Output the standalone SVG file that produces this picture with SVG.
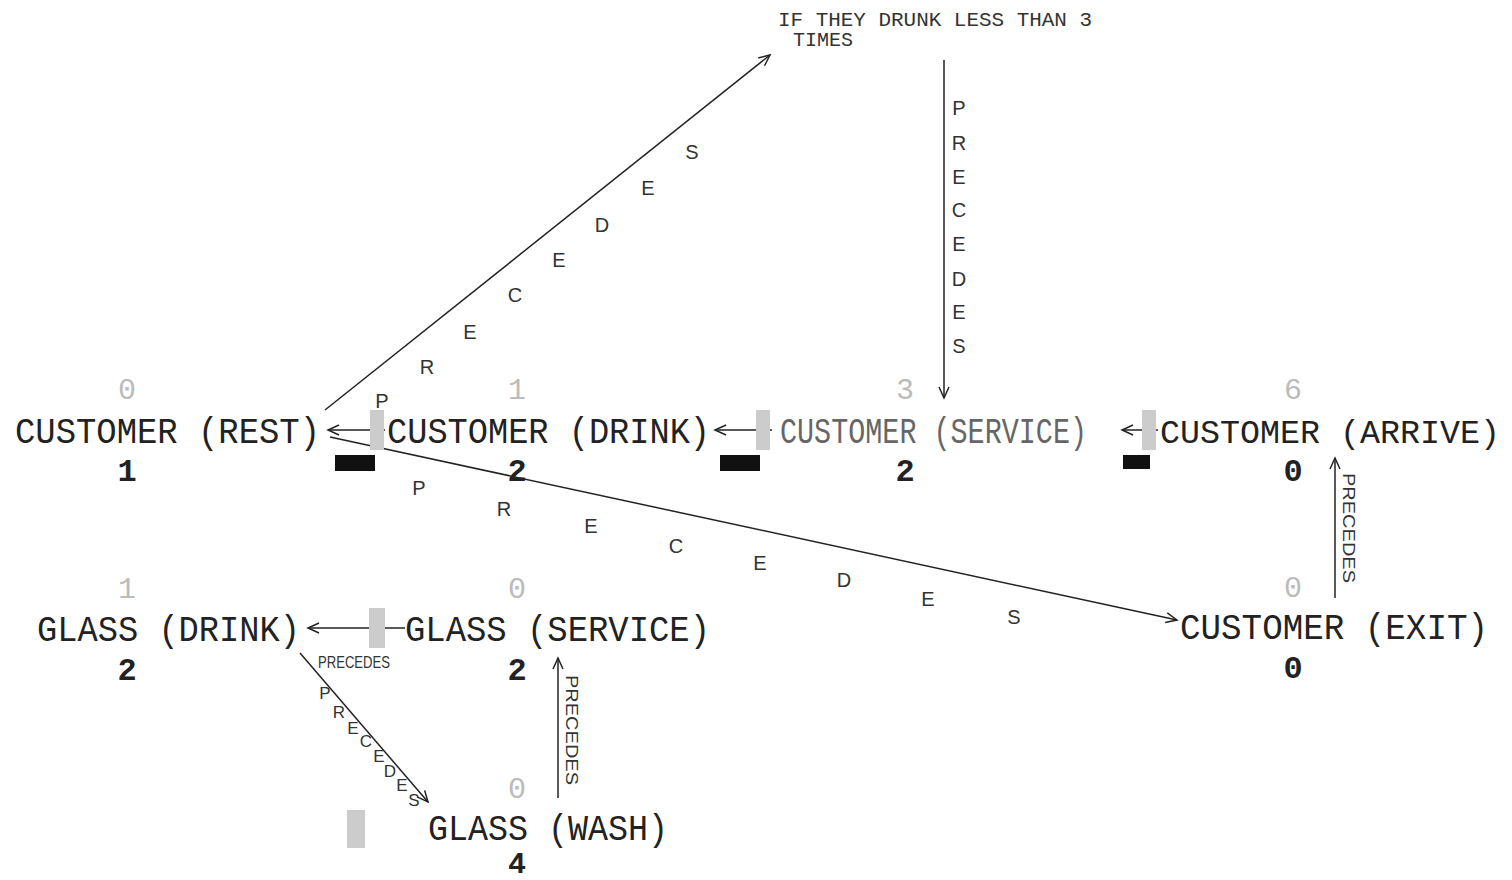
<svg xmlns="http://www.w3.org/2000/svg" width="1512" height="880" viewBox="0 0 1512 880">
<style>
.lbl{font-family:"Liberation Mono","DejaVu Sans Mono",monospace;font-size:36px;fill:#222}
.lbl2{font-family:"Liberation Mono","DejaVu Sans Mono",monospace;font-size:36px;fill:#666}
.up{font-family:"Liberation Mono",monospace;font-size:30px;fill:#bbb;text-anchor:middle}
.dn{font-family:"Liberation Mono",monospace;font-size:32px;font-weight:bold;fill:#222;text-anchor:middle}
.note{font-family:"Liberation Mono",monospace;font-size:20px;fill:#333}
.lt{font-family:"Liberation Sans",Arial,sans-serif;font-size:20px;fill:#333;text-anchor:middle}
.sm{font-family:"Liberation Sans",Arial,sans-serif;font-size:17px;fill:#333;text-anchor:middle}
.vt{font-family:"Liberation Sans",Arial,sans-serif;font-size:17px;fill:#333}
.cn{stroke:#222;stroke-width:1.5;fill:none}
.ic{fill:#ccc}
.bk{fill:#111}
</style>
<defs>
<marker id="ah" markerWidth="14" markerHeight="14" refX="12" refY="6" orient="auto" markerUnits="userSpaceOnUse">
<path d="M1,1 L12,6 L1,11" fill="none" stroke="#222" stroke-width="1.5"/>
</marker>
</defs>
<rect width="1512" height="880" fill="#fff"/>

<g id="connectors">
<line class="cn" x1="385" y1="430" x2="328" y2="430" marker-end="url(#ah)"/>
<line class="cn" x1="772" y1="430" x2="715" y2="430" marker-end="url(#ah)"/>
<line class="cn" x1="1158" y1="430" x2="1122" y2="430" marker-end="url(#ah)"/>
<line class="cn" x1="325" y1="410" x2="770" y2="55" marker-end="url(#ah)"/>
<line class="cn" x1="944" y1="60" x2="944" y2="398" marker-end="url(#ah)"/>
<line class="cn" x1="330" y1="437" x2="1177" y2="620" marker-end="url(#ah)"/>
<line class="cn" x1="1335" y1="598" x2="1335" y2="458" marker-end="url(#ah)"/>
<line class="cn" x1="405" y1="628" x2="308" y2="628" marker-end="url(#ah)"/>
<line class="cn" x1="300" y1="653" x2="428" y2="802" marker-end="url(#ah)"/>
<line class="cn" x1="558" y1="798" x2="558" y2="658" marker-end="url(#ah)"/>
<g class="lt">
<text x="382" y="408">P</text><text x="427" y="374">R</text><text x="470" y="339">E</text><text x="515" y="302">C</text><text x="559" y="267">E</text><text x="602" y="232">D</text><text x="648" y="195">E</text><text x="692" y="159">S</text>
<text x="959" y="115">P</text><text x="959" y="150">R</text><text x="959" y="184">E</text><text x="959" y="217">C</text><text x="959" y="251">E</text><text x="959" y="286">D</text><text x="959" y="319">E</text><text x="959" y="353">S</text>
<text x="419" y="495">P</text><text x="504" y="516">R</text><text x="591" y="533">E</text><text x="676" y="553">C</text><text x="760" y="570">E</text><text x="844" y="587">D</text><text x="928" y="606">E</text><text x="1014" y="624">S</text>
</g>
<g class="sm">
<text x="325" y="699">P</text><text x="339" y="718">R</text><text x="353" y="734">E</text><text x="366" y="747">C</text><text x="379" y="762">E</text><text x="390" y="777">D</text><text x="402" y="791">E</text><text x="414" y="806">S</text>
</g>
<text class="vt" transform="translate(1343,473) rotate(90)" textLength="110" lengthAdjust="spacingAndGlyphs">PRECEDES</text>
<text class="vt" transform="translate(566,675) rotate(90)" textLength="110" lengthAdjust="spacingAndGlyphs">PRECEDES</text>
<text class="sm" x="354" y="668" textLength="72" lengthAdjust="spacingAndGlyphs">PRECEDES</text>
<rect class="ic" x="370" y="410" width="14" height="40"/>
<rect class="ic" x="756" y="410" width="14" height="40"/>
<rect class="ic" x="1142" y="410" width="14" height="40"/>
<rect class="ic" x="369" y="608" width="16" height="40"/>
<rect class="ic" x="347" y="810" width="18" height="38"/>
<rect class="bk" x="335" y="455" width="40" height="16"/>
<rect class="bk" x="720" y="455" width="40" height="16"/>
<rect class="bk" x="1123" y="455" width="27" height="14"/>
</g>

<g id="note">
<text class="note" x="778" y="26" textLength="314" lengthAdjust="spacingAndGlyphs">IF THEY DRUNK LESS THAN 3</text>
<text class="note" x="793" y="46" textLength="60" lengthAdjust="spacingAndGlyphs">TIMES</text>
</g>

<g id="customer-rest">
<text class="up" x="127" y="399">0</text>
<text class="lbl" x="15" y="443" textLength="305" lengthAdjust="spacingAndGlyphs">CUSTOMER (REST)</text>
<text class="dn" x="127" y="481">1</text>
</g>
<g id="customer-drink">
<text class="up" x="517" y="399">1</text>
<text class="lbl" x="387" y="443" textLength="323" lengthAdjust="spacingAndGlyphs">CUSTOMER (DRINK)</text>
<text class="dn" x="517" y="481">2</text>
</g>
<g id="customer-service">
<text class="up" x="905" y="399">3</text>
<text class="lbl2" x="780" y="443" textLength="307" lengthAdjust="spacingAndGlyphs">CUSTOMER (SERVICE)</text>
<text class="dn" x="905" y="481">2</text>
</g>
<g id="customer-arrive">
<text class="up" x="1293" y="399">6</text>
<text class="lbl" x="1160" y="443" style="font-size:33px" textLength="340" lengthAdjust="spacingAndGlyphs">CUSTOMER (ARRIVE)</text>
<text class="dn" x="1293" y="481">0</text>
</g>
<g id="customer-exit">
<text class="up" x="1293" y="597">0</text>
<text class="lbl" x="1180" y="639" textLength="308" lengthAdjust="spacingAndGlyphs">CUSTOMER (EXIT)</text>
<text class="dn" x="1293" y="678">0</text>
</g>
<g id="glass-drink">
<text class="up" x="127" y="598">1</text>
<text class="lbl" x="37" y="641" textLength="263" lengthAdjust="spacingAndGlyphs">GLASS (DRINK)</text>
<text class="dn" x="127" y="680">2</text>
</g>
<g id="glass-service">
<text class="up" x="517" y="598">0</text>
<text class="lbl" x="405" y="641" textLength="305" lengthAdjust="spacingAndGlyphs">GLASS (SERVICE)</text>
<text class="dn" x="517" y="680">2</text>
</g>
<g id="glass-wash">
<text class="up" x="517" y="798">0</text>
<text class="lbl" x="428" y="840" textLength="240" lengthAdjust="spacingAndGlyphs">GLASS (WASH)</text>
<text class="dn" x="517" y="873" style="font-size:30px">4</text>
</g>
</svg>
